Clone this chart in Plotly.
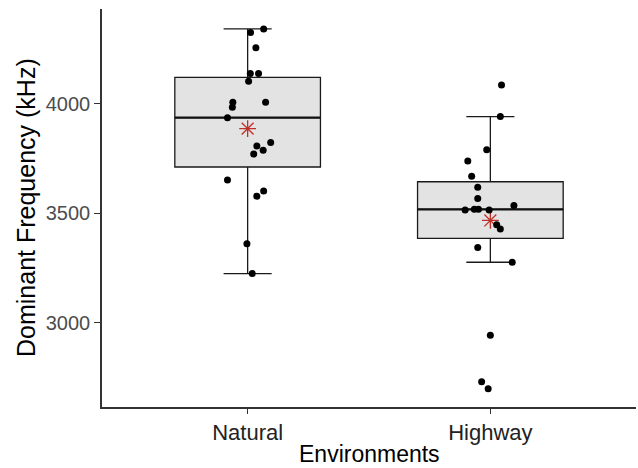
import numpy as np
import plotly.graph_objects as go

categories = ["Natural", "Highway"]
cat_pos = [1, 2]

natural_values = [4343, 4326, 4257, 4139, 4139, 4104, 4008, 4008, 3985, 3937,
                  3823, 3807, 3788, 3771, 3652, 3602, 3578, 3361, 3224]
natural_jitter = [0.066, 0.012, 0.034, 0.011, 0.045, 0.004, -0.061, 0.074, -0.063, -0.083,
                  0.095, 0.038, 0.064, 0.025, -0.083, 0.066, 0.038, -0.003, 0.019]

highway_values = [4087, 3942, 3790, 3739, 3669, 3619, 3567, 3515, 3518, 3518,
                  3515, 3535, 3447, 3428, 3343, 3276, 2942, 2730, 2697]
highway_jitter = [0.046, 0.041, -0.015, -0.093, -0.077, -0.052, -0.052, -0.104, -0.066, -0.049,
                  -0.005, 0.097, 0.026, 0.041, -0.052, 0.090, 0.0, -0.036, -0.009]

y_ticks = [3000, 3500, 4000]

groups = [natural_values, highway_values]
jitters = [natural_jitter, highway_jitter]


def stats(v):
    a = np.array(v, dtype=float)
    q1, med, q3 = np.percentile(a, [25, 50, 75])
    iqr = q3 - q1
    lo = a[a >= q1 - 1.5 * iqr].min()
    hi = a[a <= q3 + 1.5 * iqr].max()
    return q1, med, q3, lo, hi, a.mean()


S = [stats(g) for g in groups]
BOX_W = 0.6

fig = go.Figure()

fig.add_trace(go.Box(
    x=cat_pos,
    q1=[s[0] for s in S], median=[s[1] for s in S], q3=[s[2] for s in S],
    lowerfence=[s[3] for s in S], upperfence=[s[4] for s in S],
    width=BOX_W, whiskerwidth=0.33, boxpoints=False,
    fillcolor="#e3e3e3", line=dict(color="#1a1a1a", width=1.3),
    showlegend=False, hoverinfo="skip",
))

# thicker median lines
mx, my = [], []
for c, s in zip(cat_pos, S):
    mx += [c - BOX_W / 2, c + BOX_W / 2, None]
    my += [s[1], s[1], None]
fig.add_trace(go.Scatter(x=mx, y=my, mode="lines",
                         line=dict(color="#111111", width=2.3),
                         showlegend=False, hoverinfo="skip"))

# mean stars
fig.add_trace(go.Scatter(
    x=cat_pos, y=[s[5] for s in S], mode="markers",
    marker=dict(symbol="asterisk-open", size=14,
                line=dict(color="#c0302a", width=1.3), color="#c0302a"),
    showlegend=False,
))

# jittered points
for c, vals, jit in zip(cat_pos, groups, jitters):
    fig.add_trace(go.Scatter(
        x=[c + j for j in jit], y=vals, mode="markers",
        marker=dict(color="black", size=7),
        showlegend=False,
    ))

FONT = "Liberation Sans, Arial, sans-serif"

fig.update_layout(
    width=638, height=468,
    margin=dict(l=102, r=2, t=9, b=61),
    paper_bgcolor="white", plot_bgcolor="white",
    font=dict(family=FONT),
    xaxis=dict(
        range=[0.4, 2.6], tickvals=cat_pos, ticktext=categories,
        showline=True, linecolor="#333333", linewidth=1.5,
        ticks="outside", ticklen=5, tickcolor="#333333", tickwidth=1.3,
        tickfont=dict(size=22, color="#222222", family=FONT),
        showgrid=False, zeroline=False,
    ),
    yaxis=dict(
        range=[2614, 4434], tickvals=y_ticks,
        ticktext=[str(t) for t in y_ticks],
        showline=True, linecolor="#333333", linewidth=1.5,
        ticks="outside", ticklen=6, tickcolor="#333333", tickwidth=1.3,
        tickfont=dict(size=20, color="#4d4d4d", family=FONT),
        showgrid=False, zeroline=False,
    ),
    annotations=[
        dict(text="Dominant Frequency (kHz)", xref="paper", yref="paper",
             x=(26 - 102) / 534, y=0.5, xanchor="center", yanchor="middle",
             textangle=-90, showarrow=False,
             font=dict(size=25, color="black", family=FONT)),
        dict(text="Environments", xref="paper", yref="paper",
             x=0.5, y=-(454 - 407) / 398, xanchor="center", yanchor="middle",
             showarrow=False,
             font=dict(size=23, color="black", family=FONT)),
    ],
)

fig.write_html("out.html")
